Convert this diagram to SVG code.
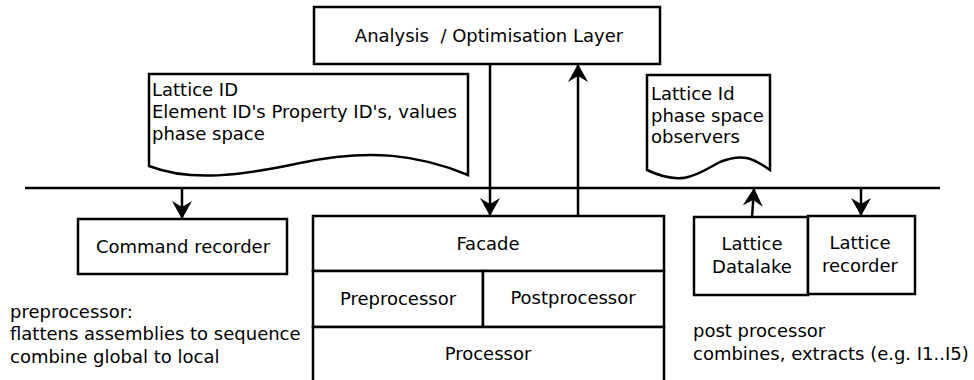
<svg xmlns="http://www.w3.org/2000/svg" width="974" height="380" viewBox="0 0 974 380">
<style>
.box{fill:#fff;stroke:#000;stroke-width:2.5}
.ln{fill:none;stroke:#000;stroke-width:2.5}
text{font-family:"DejaVu Sans",sans-serif;font-size:18px;fill:#000}
.c{text-anchor:middle}
</style>
<defs>
<marker id="ah" markerUnits="userSpaceOnUse" viewBox="0 0 18 20" refX="17" refY="10" markerWidth="18" markerHeight="20" orient="auto">
<path d="M0,0 L18,10 L0,20 L6,10 Z" fill="#000"/>
</marker>
</defs>
<rect width="974" height="380" fill="#fff"/>
<g id="analysis">
<rect class="box" x="314" y="7" width="346" height="57"/>
<text class="c" x="489" y="42" xml:space="preserve">Analysis  / Optimisation Layer</text>
</g>
<g id="doc-left">
<path class="box" d="M149,74 H468 V175 C420,155 370,148 300,163 C240,176 190,182 149,166 Z"/>
<text x="152" y="96">Lattice ID</text>
<text x="152" y="118">Element ID's Property ID's, values</text>
<text x="152" y="140">phase space</text>
</g>
<g id="doc-right">
<path class="box" d="M647,75 H770 V170 C755,160 745,152 720,162 C700,172 685,188 647,170 Z"/>
<text x="651" y="100">Lattice Id</text>
<text x="651" y="122">phase space</text>
<text x="651" y="143">observers</text>
</g>
<g id="command-recorder">
<rect class="box" x="78" y="219" width="209" height="55"/>
<text class="c" x="183" y="253">Command recorder</text>
</g>
<g id="facade">
<rect class="box" x="313" y="216" width="351" height="55"/>
<text class="c" x="488" y="250">Facade</text>
</g>
<g id="preprocessor">
<rect class="box" x="313" y="271" width="170" height="56"/>
<text class="c" x="398" y="305">Preprocessor</text>
</g>
<g id="postprocessor">
<rect class="box" x="483" y="271" width="181" height="56"/>
<text class="c" x="573" y="304">Postprocessor</text>
</g>
<g id="processor">
<rect class="box" x="313" y="327" width="351" height="60"/>
<text class="c" x="488" y="360">Processor</text>
</g>
<g id="lattice-datalake">
<rect class="box" x="694" y="217" width="114" height="78"/>
<text class="c" x="752" y="250">Lattice</text>
<text class="c" x="752" y="273">Datalake</text>
</g>
<g id="lattice-recorder">
<rect class="box" x="808" y="216" width="107" height="78"/>
<text class="c" x="860" y="249">Lattice</text>
<text class="c" x="860" y="272">recorder</text>
</g>
<g id="notes">
<text x="10" y="318">preprocessor:</text>
<text x="10" y="340">flattens assemblies to sequence</text>
<text x="10" y="363">combine global to local</text>
<text x="693" y="337">post processor</text>
<text x="693" y="360">combines, extracts (e.g. I1..I5)</text>
</g>
<g id="connectors">
<line class="ln" x1="25" y1="188" x2="940" y2="188"/>
<line class="ln" x1="182" y1="188" x2="182" y2="218" marker-end="url(#ah)"/>
<line class="ln" x1="490" y1="64" x2="490" y2="215" marker-end="url(#ah)"/>
<line class="ln" x1="578" y1="216" x2="578" y2="65" marker-end="url(#ah)"/>
<line class="ln" x1="752" y1="217" x2="754" y2="189" marker-end="url(#ah)"/>
<line class="ln" x1="861" y1="188" x2="861" y2="215" marker-end="url(#ah)"/>
</g>
</svg>
